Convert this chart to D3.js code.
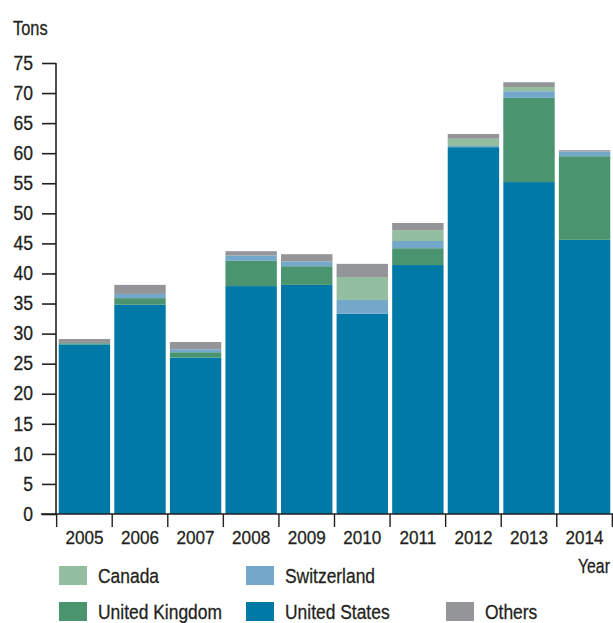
<!DOCTYPE html>
<html>
<head>
<meta charset="utf-8">
<script src="https://cdn.jsdelivr.net/npm/d3@7"></script>
<style>
  html, body { margin: 0; padding: 0; background: #fff; }
  svg text { font-family: "Liberation Sans", Arial, sans-serif; fill: #231f20; stroke: #231f20; stroke-width: 0.3px; }
</style>
</head>
<body>
<svg id="chart" width="613" height="623"></svg>
<script>
const years = ["2005","2006","2007","2008","2009","2010","2011","2012","2013","2014"];
const unitedStates = [28.2, 34.8, 26.0, 37.9, 38.1, 33.3, 41.4, 61.0, 55.2, 45.6];
const unitedKingdom = [0.2, 1.1, 0.9, 4.2, 3.1, 0.0, 2.8, 0.0, 14.0, 13.9];
const switzerland = [0.0, 0.7, 0.5, 0.9, 0.8, 2.3, 1.2, 0.2, 1.1, 0.8];
const canada = [0.0, 0.0, 0.0, 0.0, 0.0, 3.8, 1.8, 1.2, 0.7, 0.0];
const others = [0.7, 1.5, 1.2, 0.7, 1.2, 2.2, 1.2, 0.8, 0.8, 0.2];
const yTicks = [0,5,10,15,20,25,30,35,40,45,50,55,60,65,70,75];

const seriesKeys = ["United States","United Kingdom","Switzerland","Canada","Others"];
const seriesValues = {"United States": unitedStates, "United Kingdom": unitedKingdom, "Switzerland": switzerland, "Canada": canada, "Others": others};
const colors = {"Canada":"#93bea0","United Kingdom":"#4a9470","Switzerland":"#74a8cb","United States":"#0079a6","Others":"#939598"};

const rows = years.map((y,i) => {
  const r = {year: y};
  seriesKeys.forEach(k => r[k] = seriesValues[k][i]);
  return r;
});

const svg = d3.select("#chart");
const x = d3.scaleBand().domain(years).range([56.5, 612.5]).paddingInner(0.075).paddingOuter(0.04);
const y = d3.scaleLinear().domain([0, 75]).range([514, 63]);

const stack = d3.stack().keys(seriesKeys)(rows);

svg.append("g").selectAll("g").data(stack).join("g")
  .attr("fill", d => colors[d.key])
  .selectAll("rect").data(d => d).join("rect")
  .attr("x", d => x(d.data.year))
  .attr("width", x.bandwidth())
  .attr("y", d => y(d[1]))
  .attr("height", d => Math.max(0, y(d[0]) - y(d[1])));

// condense text to mimic a narrow typeface
function condense(sel, ratio) {
  sel.each(function() {
    const w = this.getComputedTextLength();
    d3.select(this).attr("textLength", (w * ratio).toFixed(2)).attr("lengthAdjust", "spacingAndGlyphs");
  });
}

// Y axis
const yAxis = svg.append("g").attr("transform", "translate(56,0)")
  .call(d3.axisLeft(y).tickValues(yTicks).tickSize(14).tickPadding(9));
yAxis.select(".domain").attr("stroke", "#231f20").attr("stroke-width", 1.6).attr("d", `M0,${y(75)}V${y(0)}`);
yAxis.selectAll(".tick line").attr("stroke", "#231f20").attr("stroke-width", 1.6);
yAxis.selectAll(".tick text").attr("font-size", 19.5).attr("font-family", "Liberation Sans, Arial, sans-serif").attr("fill", "#231f20").attr("stroke", "#231f20").attr("stroke-width", 0.3);
condense(yAxis.selectAll(".tick text"), 0.9);

// X axis
const xAxis = svg.append("g").attr("transform", "translate(0,514)");
xAxis.append("line").attr("x1", 41).attr("x2", 613).attr("y1", 0).attr("y2", 0)
  .attr("stroke", "#231f20").attr("stroke-width", 1.6);
const bandStep = x.step();
const boundaries = years.map(yr => x(yr) - (bandStep - x.bandwidth()) / 2).concat([x(years[years.length-1]) + x.bandwidth() + (bandStep - x.bandwidth()) / 2]);
xAxis.selectAll("line.bt").data(boundaries).join("line").attr("class","bt")
  .attr("x1", d => d).attr("x2", d => d).attr("y1", 0).attr("y2", 13)
  .attr("stroke", "#231f20").attr("stroke-width", 1.4);
const yl = xAxis.selectAll("text.yl").data(years).join("text").attr("class","yl")
  .attr("x", d => x(d) + x.bandwidth()/2).attr("y", 29.5)
  .attr("text-anchor", "middle").attr("font-size", 19).text(d => d);
condense(yl, 0.9);

const tons = svg.append("text").attr("x", 13).attr("y", 35).attr("font-size", 19.5).text("Tons");
condense(tons, 0.84);
svg.append("text").attr("transform", "translate(578,573) scale(0.81,1)")
  .attr("font-size", 19.5).text("Year");

// Legend
const legend = [
  {key: "Canada", x: 59, y: 566},
  {key: "Switzerland", x: 246, y: 566},
  {key: "United Kingdom", x: 59, y: 602},
  {key: "United States", x: 246, y: 602},
  {key: "Others", x: 446, y: 602}
];
const lg = svg.append("g").selectAll("g").data(legend).join("g")
  .attr("transform", d => `translate(${d.x},${d.y})`);
lg.append("rect").attr("width", 28).attr("height", 19).attr("fill", d => colors[d.key]);
const lt = lg.append("text").attr("x", 39).attr("y", 17).attr("font-size", 20.5).text(d => d.key);
condense(lt, 0.85);
</script>
</body>
</html>
